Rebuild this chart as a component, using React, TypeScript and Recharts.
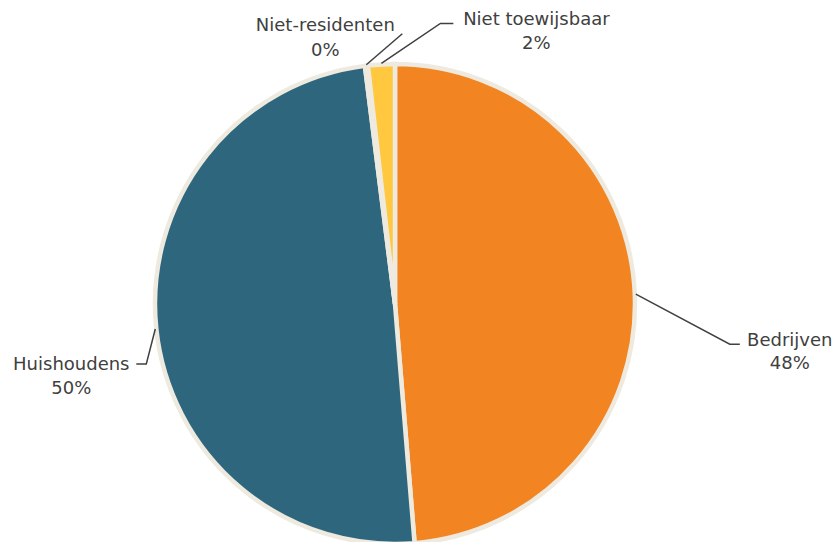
import React from 'react';
import { PieChart, Pie, Cell } from 'recharts';

const categories = ['Bedrijven', 'Huishoudens', 'Niet-residenten', 'Niet toewijsbaar'];
const shares = [48.7, 49.3, 0.2, 1.8];
const shareLabels = ['48%', '50%', '0%', '2%'];
const colors = ['#F38422', '#2E677D', '#EEEADF', '#FFC83E'];

const data = categories.map((name, i) => ({ name, value: shares[i], pct: shareLabels[i] }));

// leader-line / text layout relative to the slice edge point
const layout = [
  { pts: [[94, 50], [104, 50]], tx: 154, b1: 52, b2: 75 },
  { pts: [[-9, 35], [-19, 35]], tx: -84, b1: 41, b2: 65 },
  { pts: [[36, -31]], tx: -41, b1: -34, b2: -9 },
  { pts: [[59, -40], [72, -40]], tx: 155, b1: -38, b2: -14 },
];

const RAD = Math.PI / 180;
const FONT = '"DejaVu Sans", sans-serif';

const renderLabel = (props: any) => {
  const { cx, cy, midAngle, outerRadius, index } = props;
  const r = outerRadius + 1;
  const ex = cx + r * Math.cos(-midAngle * RAD);
  const ey = cy + r * Math.sin(-midAngle * RAD);
  const l = layout[index];
  const points = [[ex, ey], ...l.pts.map(([dx, dy]) => [ex + dx, ey + dy])]
    .map((p) => p.join(','))
    .join(' ');
  return (
    <g key={`lbl-${index}`}>
      <polyline points={points} fill="none" stroke="#404040" strokeWidth={1.5} />
      <text x={ex + l.tx} y={ey + l.b1} textAnchor="middle" fill="#404040" fontSize={18} fontFamily={FONT}>
        {data[index].name}
      </text>
      <text x={ex + l.tx} y={ey + l.b2} textAnchor="middle" fill="#404040" fontSize={18} fontFamily={FONT}>
        {data[index].pct}
      </text>
    </g>
  );
};

export default function App() {
  return (
    <div style={{ position: 'absolute', left: 0, top: 0, width: 838, height: 542, background: '#FFFFFF', overflow: 'hidden' }}>
      <PieChart width={838} height={560} margin={{ top: 0, right: 0, bottom: 0, left: 0 }}>
        <Pie
          data={data}
          dataKey="value"
          nameKey="name"
          cx={395}
          cy={304}
          outerRadius={240}
          startAngle={90}
          endAngle={-270}
          stroke="#EEEADF"
          strokeWidth={4.5}
          label={renderLabel}
          labelLine={false}
          isAnimationActive={false}
        >
          {data.map((d, i) => (
            <Cell key={d.name} fill={colors[i]} />
          ))}
        </Pie>
      </PieChart>
    </div>
  );
}
